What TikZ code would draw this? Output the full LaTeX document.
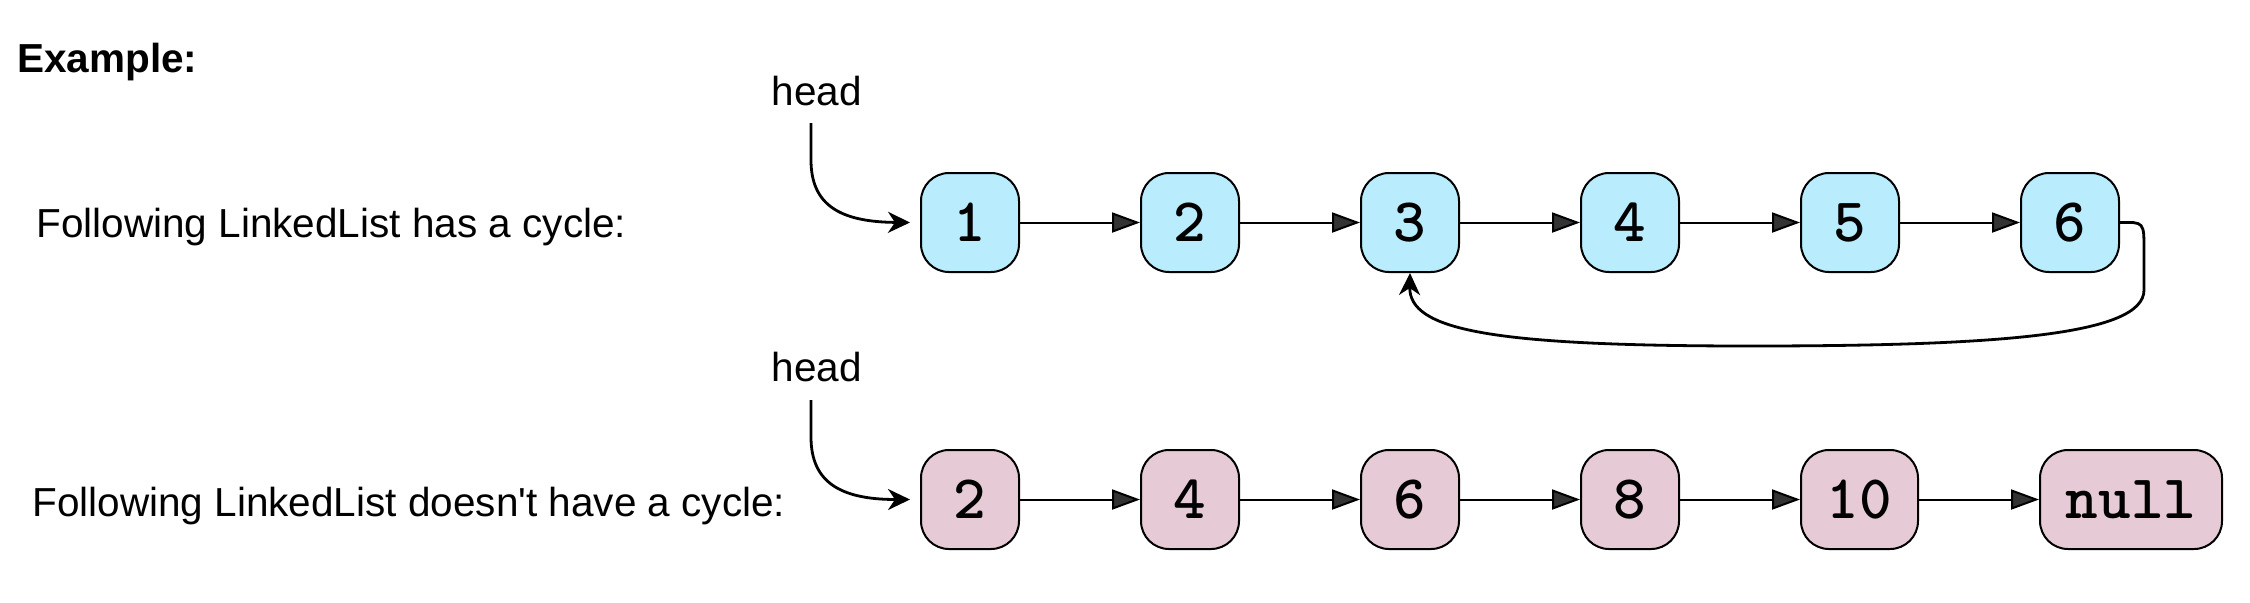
\documentclass[tikz,border=0pt]{standalone}
\usepackage{fontspec}
\setmainfont{Liberation Sans}
\usetikzlibrary{positioning,arrows.meta}

\definecolor{cyclefill}{RGB}{185,236,253}
\definecolor{plainfill}{RGB}{230,203,214}
\definecolor{tipgray}{RGB}{51,51,51}

\tikzset{
  cell/.style={draw=black, line width=1pt, rounded corners=14pt,
    minimum width=49pt, minimum height=49.5pt, inner sep=0pt,
    font=\ttfamily\bfseries\fontsize{31}{34}\selectfont},
  cyc/.style={cell, fill=cyclefill},
  acyc/.style={cell, fill=plainfill},
  link/.style={line width=1pt, -{Triangle[length=14pt,width=10pt,fill=tipgray]}},
  ptr/.style={line width=1.4pt, -{Stealth[length=11pt,width=10.5pt,inset=3.5pt]}},
  lbl/.style={anchor=base west, inner sep=0pt, font=\fontsize{20.25}{24}\selectfont},
  headlbl/.style={anchor=base, inner sep=0pt, font=\fontsize{20.25}{24}\selectfont},
}

\begin{document}
\begin{tikzpicture}[x=0.5pt,y=-0.5pt]
  \useasboundingbox (0,0) rectangle (2250,602);
  \node [lbl, font=\bfseries\fontsize{20.25}{24}\selectfont] (ex) at (17,72) {Example:};
  % list with a cycle
  \node [lbl] (txt1) at (36,237) {Following LinkedList has a cycle:};
  \node [headlbl] (hd1) at (817,105) {head};
  \coordinate (p1) at (811,123);
  \node [cyc] (c1) at (970,222.5) {1};
  \node [cyc, right=60pt of c1] (c2) {2};
  \node [cyc, right=60pt of c2] (c3) {3};
  \node [cyc, right=60pt of c3] (c4) {4};
  \node [cyc, right=60pt of c4] (c5) {5};
  \node [cyc, right=60pt of c5] (c6) {6};
  \draw [ptr] (p1) -- (811,160) .. controls (811,205) and (840,222) .. ([xshift=-5pt]c1.west);
  \draw [link] (c1) -- (c2);
  \draw [link] (c2) -- (c3);
  \draw [link] (c3) -- (c4);
  \draw [link] (c4) -- (c5);
  \draw [link] (c5) -- (c6);
  \draw [ptr] (c6.east) .. controls (2144,222) .. (2144,250) -- (2144,290)
    .. controls (2144,335) and (2000,346) .. (1750,346)
    .. controls (1490,346) and (1409,330) .. (c3.south);
  % list without a cycle
  \node [lbl] (txt2) at (32,516) {Following LinkedList doesn\textquotesingle t have a cycle:};
  \node [headlbl] (hd2) at (817,381) {head};
  \coordinate (p2) at (811,400);
  \node [acyc] (n1) at (970,499.5) {2};
  \node [acyc, right=60pt of n1] (n2) {4};
  \node [acyc, right=60pt of n2] (n3) {6};
  \node [acyc, right=60pt of n3] (n4) {8};
  \node [acyc, right=60pt of n4, minimum width=58.5pt] (n5) {10};
  \node [acyc, right=60pt of n5, minimum width=91pt] (n6) {null};
  \draw [ptr] (p2) -- (811,437) .. controls (811,482) and (840,499.5) .. ([xshift=-5pt]n1.west);
  \draw [link] (n1) -- (n2);
  \draw [link] (n2) -- (n3);
  \draw [link] (n3) -- (n4);
  \draw [link] (n4) -- (n5);
  \draw [link] (n5) -- (n6);
\end{tikzpicture}
\end{document}
